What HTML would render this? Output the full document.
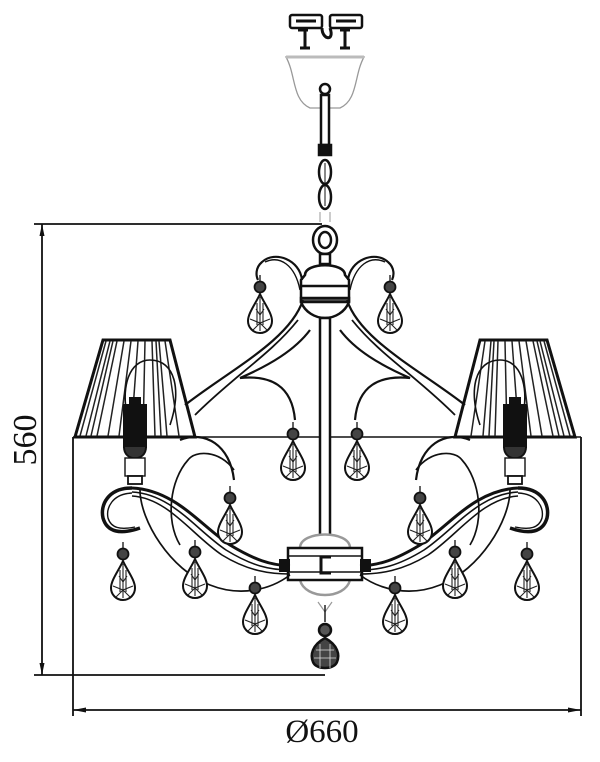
<!DOCTYPE html>
<html><head><meta charset="utf-8"><style>
html,body{margin:0;padding:0;background:#fff;}
svg{display:block;}
</style></head><body>
<svg width="600" height="762" viewBox="0 0 600 762" xmlns="http://www.w3.org/2000/svg">
<defs>
<g id="drop">
  <line x1="0" y1="-30" x2="0" y2="-23" stroke="#222" stroke-width="1.4"/>
  <circle cx="0" cy="-18" r="5.5" fill="#444" stroke="#111" stroke-width="1.8"/>
  <path d="M0,-11 C-4,-2 -12,8 -12,16 A12,12 0 0 0 12,16 C12,8 4,-2 0,-11Z" fill="#fff" stroke="#111" stroke-width="2"/>
  <path d="M0,-8 L0,26 M-10,14 L0,18 L10,14 M-7,25 L0,18 L7,25 M-4,4 L0,10 L4,4 M-3,-2 L-3,20 M3,-2 L3,20" fill="none" stroke="#222" stroke-width="1.1"/>
</g>
<g id="half" fill="none" stroke="#111" stroke-width="2">
  <polygon points="103,340 170,340 195,437 75,437" fill="#fff" stroke="#111" stroke-width="3"/>
  <g stroke="#222" stroke-width="1.5">
    <line x1="110" y1="341" x2="86" y2="436"/><line x1="117" y1="341" x2="97" y2="436"/>
    <line x1="124" y1="341" x2="108" y2="436"/><line x1="131" y1="341" x2="119" y2="436"/>
    <line x1="138" y1="341" x2="131" y2="436"/><line x1="145" y1="341" x2="143" y2="436"/>
    <line x1="152" y1="341" x2="155" y2="436"/><line x1="159" y1="341" x2="167" y2="436"/>
    <line x1="165" y1="341" x2="179" y2="436"/><line x1="106" y1="341" x2="80" y2="436"/>
    <line x1="113" y1="341" x2="91" y2="436"/><line x1="156" y1="341" x2="161" y2="436"/>
  </g>
  <path d="M128,420 C120,385 130,360 150,360 C175,360 182,390 170,425" stroke-width="1.6"/>
  <rect x="124" y="405" width="22" height="42" fill="#111"/>
  <rect x="130" y="398" width="10" height="8" fill="#111"/>
  <path d="M124,447 C124,462 146,462 146,447" fill="#333"/>
  <rect x="125" y="458" width="20" height="18" fill="#fff" stroke-width="1.4"/>
  <rect x="128" y="476" width="14" height="8" fill="#fff" stroke-width="1.8"/>
  <path d="M302,280 C300,260 275,250 262,262 C255,268 256,276 258,280" stroke-width="2.2"/>
  <path d="M300,290 C295,265 280,255 265,262" stroke-width="1.4"/>
  <path d="M303,300 C290,340 230,370 185,405" stroke-width="2.2"/>
  <path d="M298,320 C270,355 235,375 195,415" stroke-width="1.8"/>
  <path d="M310,330 C295,350 270,365 240,378 C270,375 292,385 295,420" stroke-width="2.2"/>
  <path d="M180,440 C205,430 230,445 234,480" stroke-width="2.2"/>
  <path d="M234,470 C220,450 195,450 188,460 C170,480 165,520 180,545" stroke-width="1.7"/>
  <path d="M140,490 C140,520 170,570 210,585 C240,597 270,590 290,575" stroke-width="1.7"/>
  <path d="M132,488 C175,490 200,525 230,545 C255,560 270,565 290,566" stroke-width="3"/>
  <path d="M132,492 C172,494 196,530 226,550 C252,566 270,570 290,570" stroke-width="1.6"/>
  <path d="M132,496 C168,498 192,535 222,555 C248,571 270,574 290,574" stroke-width="1.6"/>
  <path d="M132,488 C108,488 100,505 103,518 C107,532 120,535 140,528" stroke-width="3.5"/>
  <path d="M132,493 C112,494 106,508 108,518 C111,528 120,530 135,527" stroke-width="1.4"/>
  <rect x="280" y="560" width="9" height="11" fill="#111"/>
  <use href="#drop" x="260" y="305"/>
  <use href="#drop" x="293" y="452"/>
  <use href="#drop" x="230" y="516"/>
  <use href="#drop" x="123" y="572"/>
  <use href="#drop" x="195" y="570"/>
  <use href="#drop" x="255" y="606"/>
</g>
</defs>

<g stroke="#111" stroke-width="1.8" fill="none">
  <line x1="34" y1="224" x2="322" y2="224"/>
  <line x1="42" y1="224" x2="42" y2="675"/>
  <line x1="34" y1="675" x2="325" y2="675"/>
  <line x1="73" y1="437" x2="73" y2="716"/>
  <line x1="581" y1="437" x2="581" y2="716"/>
  <line x1="73" y1="710" x2="581" y2="710"/>
  <line x1="73" y1="437" x2="581" y2="437" stroke-width="1.4"/>
</g>
<g fill="#111">
  <polygon points="42,224 39.5,236 44.5,236"/>
  <polygon points="42,675 39.5,663 44.5,663"/>
  <polygon points="73,710 86,707.5 86,712.5"/>
  <polygon points="581,710 568,707.5 568,712.5"/>
</g>
<text x="322" y="742" font-family="Liberation Serif, serif" font-size="33" text-anchor="middle" fill="#111">Ø660</text>
<text transform="translate(36,440) rotate(-90)" font-family="Liberation Serif, serif" font-size="34" text-anchor="middle" fill="#111">560</text>

<g stroke="#111" fill="#fff" stroke-width="2.5">
  <rect x="290" y="15" width="32" height="13" rx="2"/>
  <rect x="330" y="15" width="32" height="13" rx="2"/>
  <line x1="296" y1="21" x2="316" y2="21" stroke-width="3"/>
  <line x1="336" y1="21" x2="356" y2="21" stroke-width="3"/>
  <path d="M305,28 L305,48 M298,30 L308,30 M345,28 L345,48 M340,30 L350,30 M322,28 C322,40 335,42 330,28 M300,48 L310,48 M340,48 L350,48" fill="none" stroke-width="3"/>
</g>
<path d="M286,57 C296,75 292,100 310,108 L340,108 C358,100 354,75 364,57 Z" fill="#fff" stroke="#999" stroke-width="1.3"/>
<line x1="286" y1="57" x2="364" y2="57" stroke="#bbb" stroke-width="3"/>
<g stroke="#111" fill="none" stroke-width="2.5">
  <circle cx="325" cy="89" r="5"/>
  <rect x="321" y="95" width="8" height="50" fill="#fff"/>
  <rect x="319" y="145" width="12" height="10" fill="#111"/>
  <ellipse cx="325" cy="172" rx="6" ry="12"/>
  <ellipse cx="325" cy="197" rx="6" ry="12"/>
  <line x1="325" y1="163" x2="325" y2="206" stroke-width="1"/>
</g>
<g stroke="#bbb" fill="none" stroke-width="1.5"><path d="M320,212 L320,222 M330,212 L330,222"/></g>
<g stroke="#111" fill="#fff" stroke-width="2.5">
  <ellipse cx="325" cy="240" rx="12" ry="14"/>
  <ellipse cx="325" cy="240" rx="6" ry="8"/>
  <rect x="320" y="254" width="10" height="10"/>
  <path d="M305,275 C305,262 345,262 345,275 L349,280 L349,302 C345,312 335,318 325,318 C315,318 305,312 301,302 L301,280 Z"/>
  <line x1="301" y1="286" x2="349" y2="286"/>
  <rect x="301" y="298" width="48" height="4" fill="#555"/>
  <rect x="320" y="318" width="10" height="225"/>
</g>
<g stroke="#111" stroke-width="2.5" fill="#fff">
  <path d="M300,548 C300,530 350,530 350,548" stroke="#999"/>
  <path d="M300,580 C305,600 345,600 350,580" stroke="#999"/>
  <rect x="288" y="548" width="74" height="32"/>
  <line x1="288" y1="556" x2="362" y2="556" stroke-width="1.4"/>
  <line x1="288" y1="572" x2="362" y2="572" stroke-width="1.4"/>
  <path d="M331,557 L321,557 L321,573 L331,573" fill="none" stroke-width="3"/>
  <path d="M318,602 L325,612 L332,602" stroke="#999" stroke-width="1.2"/>
  <line x1="325" y1="605" x2="325" y2="622" stroke-width="1.4"/>
  <circle cx="325" cy="630" r="6" fill="#555"/>
  <path d="M325,638 C312,645 310,655 313,662 C316,670 334,670 337,662 C340,655 338,645 325,638Z" fill="#444"/>
</g>
<g stroke="#ddd" stroke-width="0.8"><path d="M316,650 L334,650 M314,658 L336,658 M320,644 L320,668 M330,644 L330,668"/></g>

<use href="#half"/>
<use href="#half" transform="translate(650,0) scale(-1,1)"/>
</svg>
</body></html>
